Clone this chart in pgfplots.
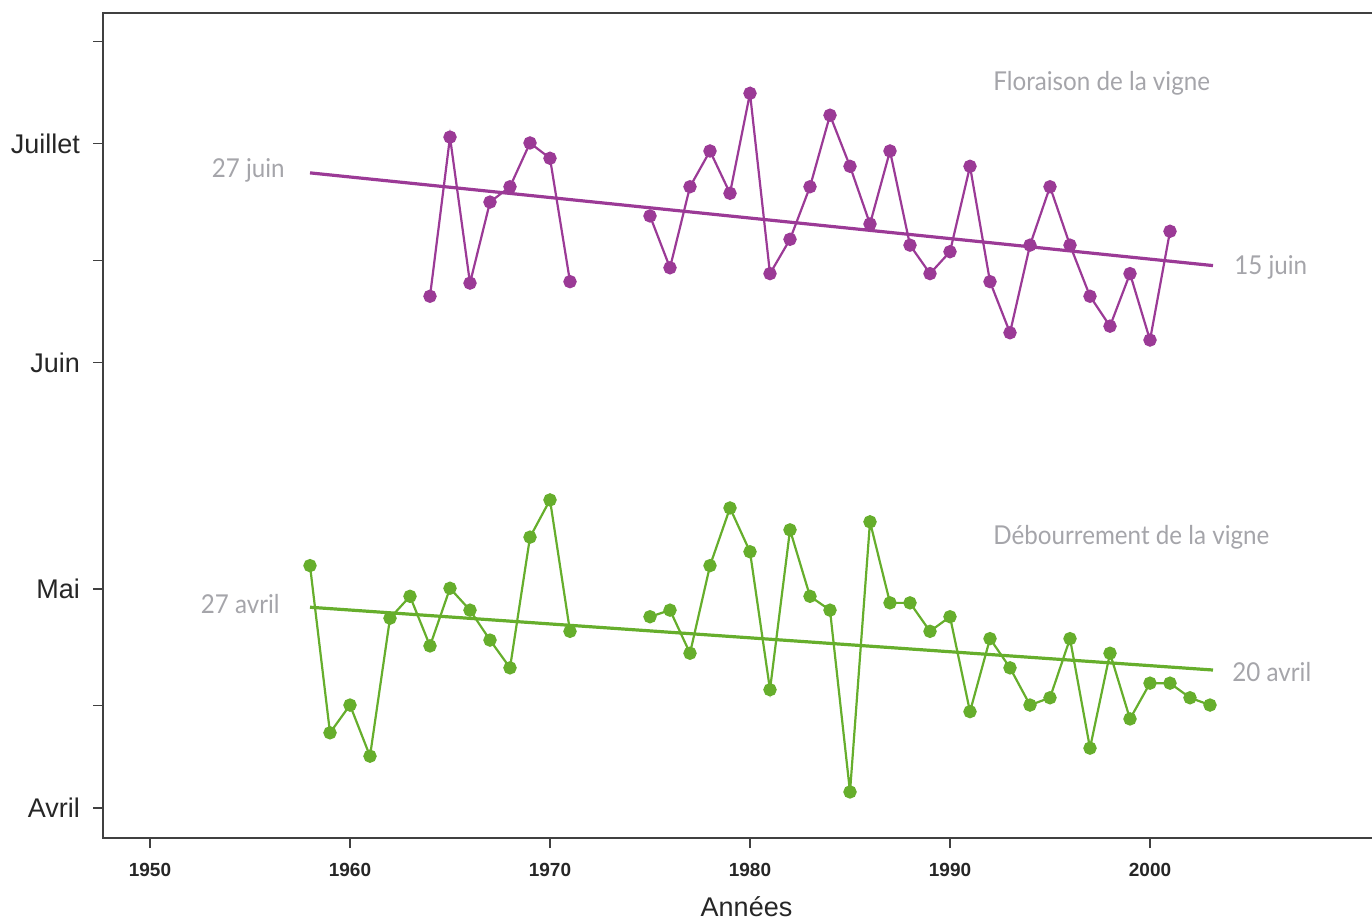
\documentclass[border=0pt]{standalone}
\usepackage{pgfplots}
\pgfplotsset{compat=1.18}
\usepackage{fontspec}
\setmainfont{Liberation Sans}
\newfontfamily\annfont[FakeStretch=0.93]{Lato}
\definecolor{purp}{RGB}{155,58,150}
\definecolor{grn}{RGB}{102,174,44}
\definecolor{anng}{RGB}{165,165,170}
\begin{document}
\begin{tikzpicture}
\path[use as bounding box] (0,0) rectangle (686pt,461.5pt);
\begin{axis}[
  at={(51.5pt,42.5pt)}, anchor=south west,
  scale only axis, width=643.5pt, height=412.5pt,
  xmin=1947.65, xmax=2012, ymin=86.89, ymax=199.9,
  axis line style={line width=0.9pt, black!75},
  tick align=outside, major tick length=5pt,
  xtick pos=bottom, ytick pos=left,
  tick style={line width=0.7pt, black!75},
  xtick={1950,1960,1970,1980,1990,2000},
  xticklabel style={font=\fontsize{9.5}{10}\selectfont\bfseries, black!85, yshift=-4pt},
  /pgf/number format/1000 sep={},
  /pgf/number format/assume math mode=true,
  ytick={91,105,121,152,166,182,196},
  yticklabels={Avril,,Mai,Juin,,Juillet,},
  yticklabel style={font=\fontsize{13.5}{14}\selectfont, black!85, xshift=-3pt},
  xlabel={Années},
  xlabel style={font=\fontsize{13.5}{14}\selectfont, black!85, yshift=-3pt},
  clip=false,
]
% Floraison
\addplot[purp, line width=1.1pt, mark=*, mark size=2.8pt] coordinates {
(1964,161.1)(1965,182.9)(1966,162.9)(1967,174.0)(1968,176.1)(1969,182.1)(1970,180.0)(1971,163.1)
};
\addplot[purp, line width=1.1pt, mark=*, mark size=2.8pt] coordinates {
(1975,172.1)(1976,165.0)(1977,176.1)(1978,181.0)(1979,175.2)(1980,188.9)(1981,164.2)(1982,168.9)
(1983,176.1)(1984,185.9)(1985,178.9)(1986,171.0)(1987,181.0)(1988,168.1)(1989,164.2)(1990,167.2)
(1991,178.9)(1992,163.1)(1993,156.1)(1994,168.1)(1995,176.1)(1996,168.1)(1997,161.1)(1998,157.0)
(1999,164.2)(2000,155.1)(2001,170.0)
};
\addplot[purp, line width=1.6pt] coordinates {(1958,178.0)(2003.15,165.3)};
% Debourrement
\addplot[grn, line width=1.1pt, mark=*, mark size=2.8pt] coordinates {
(1958,124.2)(1959,101.3)(1960,105.1)(1961,98.1)(1962,117.0)(1963,120.0)(1964,113.2)(1965,121.1)
(1966,118.1)(1967,114.0)(1968,110.2)(1969,128.1)(1970,133.2)(1971,115.2)
};
\addplot[grn, line width=1.1pt, mark=*, mark size=2.8pt] coordinates {
(1975,117.2)(1976,118.1)(1977,112.2)(1978,124.2)(1979,132.1)(1980,126.1)(1981,107.2)(1982,129.1)
(1983,120.0)(1984,118.1)(1985,93.2)(1986,130.2)(1987,119.1)(1988,119.1)(1989,115.2)(1990,117.2)
(1991,104.2)(1992,114.2)(1993,110.2)(1994,105.1)(1995,106.1)(1996,114.2)(1997,99.2)(1998,112.2)
(1999,103.2)(2000,108.1)(2001,108.1)(2002,106.1)(2003,105.1)
};
\addplot[grn, line width=1.6pt] coordinates {(1958,118.5)(2003.15,109.9)};
% annotations
\node[anchor=west, anng, font=\annfont\fontsize{13}{14}\selectfont, inner sep=0pt] at (axis cs:1992.15,190.3) {Floraison de la vigne};
\node[anchor=west, anng, font=\annfont\fontsize{13}{14}\selectfont, inner sep=0pt] at (axis cs:1992.15,128.1) {Débourrement de la vigne};
\node[anchor=east, anng, font=\annfont\fontsize{13}{14}\selectfont, inner sep=0pt] at (axis cs:1956.75,178.4) {27 juin};
\node[anchor=west, anng, font=\annfont\fontsize{13}{14}\selectfont, inner sep=0pt] at (axis cs:2004.2,165.1) {15 juin};
\node[anchor=east, anng, font=\annfont\fontsize{13}{14}\selectfont, inner sep=0pt] at (axis cs:1956.5,118.9) {27 avril};
\node[anchor=west, anng, font=\annfont\fontsize{13}{14}\selectfont, inner sep=0pt] at (axis cs:2004.1,109.6) {20 avril};
\end{axis}
\end{tikzpicture}
\end{document}
